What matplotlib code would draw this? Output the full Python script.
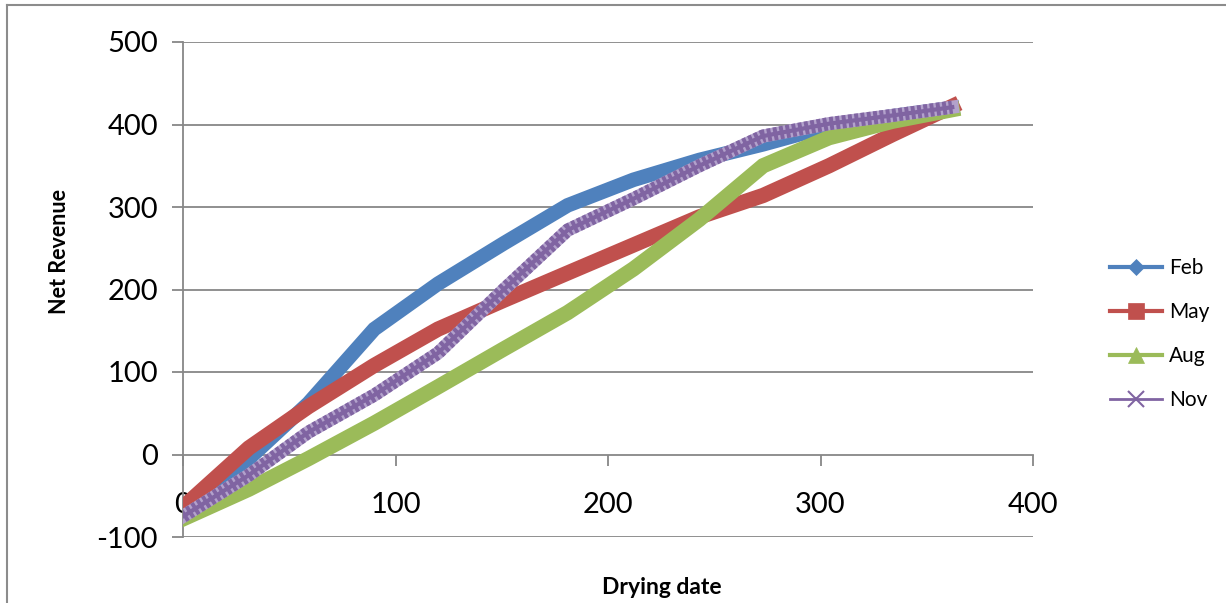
import matplotlib
matplotlib.use("Agg")
from matplotlib import pyplot as plt
from matplotlib.lines import Line2D

# drying date (day of year) and net revenue per series
days = [0, 31, 59, 90, 120, 151, 181, 212, 243, 273, 304, 334, 362]
feb = [-70, -5, 62, 152, 207, 256, 302, 333, 357, 376, 398, 410, 420]
may = [-64, 8, 58, 108, 152, 187, 220, 254, 288, 314, 350, 388, 422]
aug = [-78, -42, -5, 38, 82, 128, 172, 225, 285, 350, 384, 404, 418]
nov = [-75, -25, 27, 72, 123, 200, 272, 310, 350, 386, 401, 411, 421]

names = ["Feb", "May", "Aug", "Nov"]
colors = ["#4F81BD", "#C0504D", "#9BBB59", "#8064A2"]
mk = ["D", "s", "^", "x"]

xticks = [0, 100, 200, 300, 400]
yticks = [-100, 0, 100, 200, 300, 400, 500]

plt.rcParams['font.family'] = ['Lato', 'DejaVu Sans']

fig = plt.figure(figsize=(12.26, 6.03), dpi=100)
ax = fig.add_axes([183/1226, 1 - 537/603, (1033-183)/1226, (537-42)/603])

grid = "#878787"
ax.set_xlim(0, 400)
ax.set_ylim(-100, 500)
for y in yticks:
    if y != 0:
        ax.axhline(y, color=grid, lw=1.3, zorder=1)

lw = 10.5
ax.plot(days, feb, color=colors[0], lw=lw, solid_joinstyle='miter', zorder=3)
ax.plot(days, may, color=colors[1], lw=lw + 0.5, solid_joinstyle='miter', zorder=4)
ax.plot(days, aug, color=colors[2], lw=lw + 0.5, solid_joinstyle='miter', zorder=5)
# Nov: dense x markers look like a striped band
ax.plot(days, nov, color="#b3a2cc", lw=lw - 1, zorder=6)
ax.plot(days, nov, color=colors[3], lw=lw - 1, linestyle=(0, (0.3, 0.18)),
        dash_capstyle='butt', zorder=7)
ax.plot(days, nov, color=colors[3], lw=3, zorder=8)

# axes styling (Excel look)
for s in ["top", "right"]:
    ax.spines[s].set_visible(False)
ax.spines["bottom"].set_position(("data", 0))
ax.spines["bottom"].set_color(grid)
ax.spines["left"].set_color(grid)
ax.spines["bottom"].set_linewidth(1.3)
ax.spines["left"].set_linewidth(1.3)
ax.spines["bottom"].set_zorder(2)
ax.spines["left"].set_zorder(2)

ax.set_xticks(xticks)
ax.set_yticks(yticks)
ax.set_xticklabels([str(v) for v in xticks])
ax.set_yticklabels([str(v) for v in yticks])
ax.tick_params(axis='x', direction='out', length=8, width=1.3, color=grid,
               pad=19, labelsize=21)
ax.tick_params(axis='y', direction='out', length=8, width=1.3, color=grid,
               pad=10, labelsize=21)

fig.text(60/1226, 1 - 252/603, "Net Revenue", rotation=90, ha='center',
         va='center', fontsize=15.5, fontweight='bold')
fig.text(662/1226, 1 - 587/603, "Drying date", ha='center', va='center',
         fontsize=16.5, fontweight='bold')

handles = []
for n, c, m in zip(names, colors, mk):
    handles.append(Line2D([], [], color=c, lw=3 if m != "x" else 2, marker=m,
                          markersize=11 if m != "D" else 8,
                          markeredgewidth=1.5 if m == "x" else 0.5,
                          markeredgecolor=c, label=n))
fig.legend(handles=handles, loc='center left',
           bbox_to_anchor=(1102/1226, 1 - 334/603), frameon=False,
           fontsize=15, handlelength=2.5, handletextpad=0.3, labelspacing=1.15,
           borderaxespad=0)

# chart area border (left and top edges visible)
fig.add_artist(Line2D([7/1226, 7/1226], [0, 1 - 5/603], color="#8c8c8c",
                      lw=1.5, transform=fig.transFigure))
fig.add_artist(Line2D([7/1226, 1], [1 - 5/603, 1 - 5/603], color="#8c8c8c",
                      lw=1.5, transform=fig.transFigure))

fig.savefig("out.png", dpi=100)
